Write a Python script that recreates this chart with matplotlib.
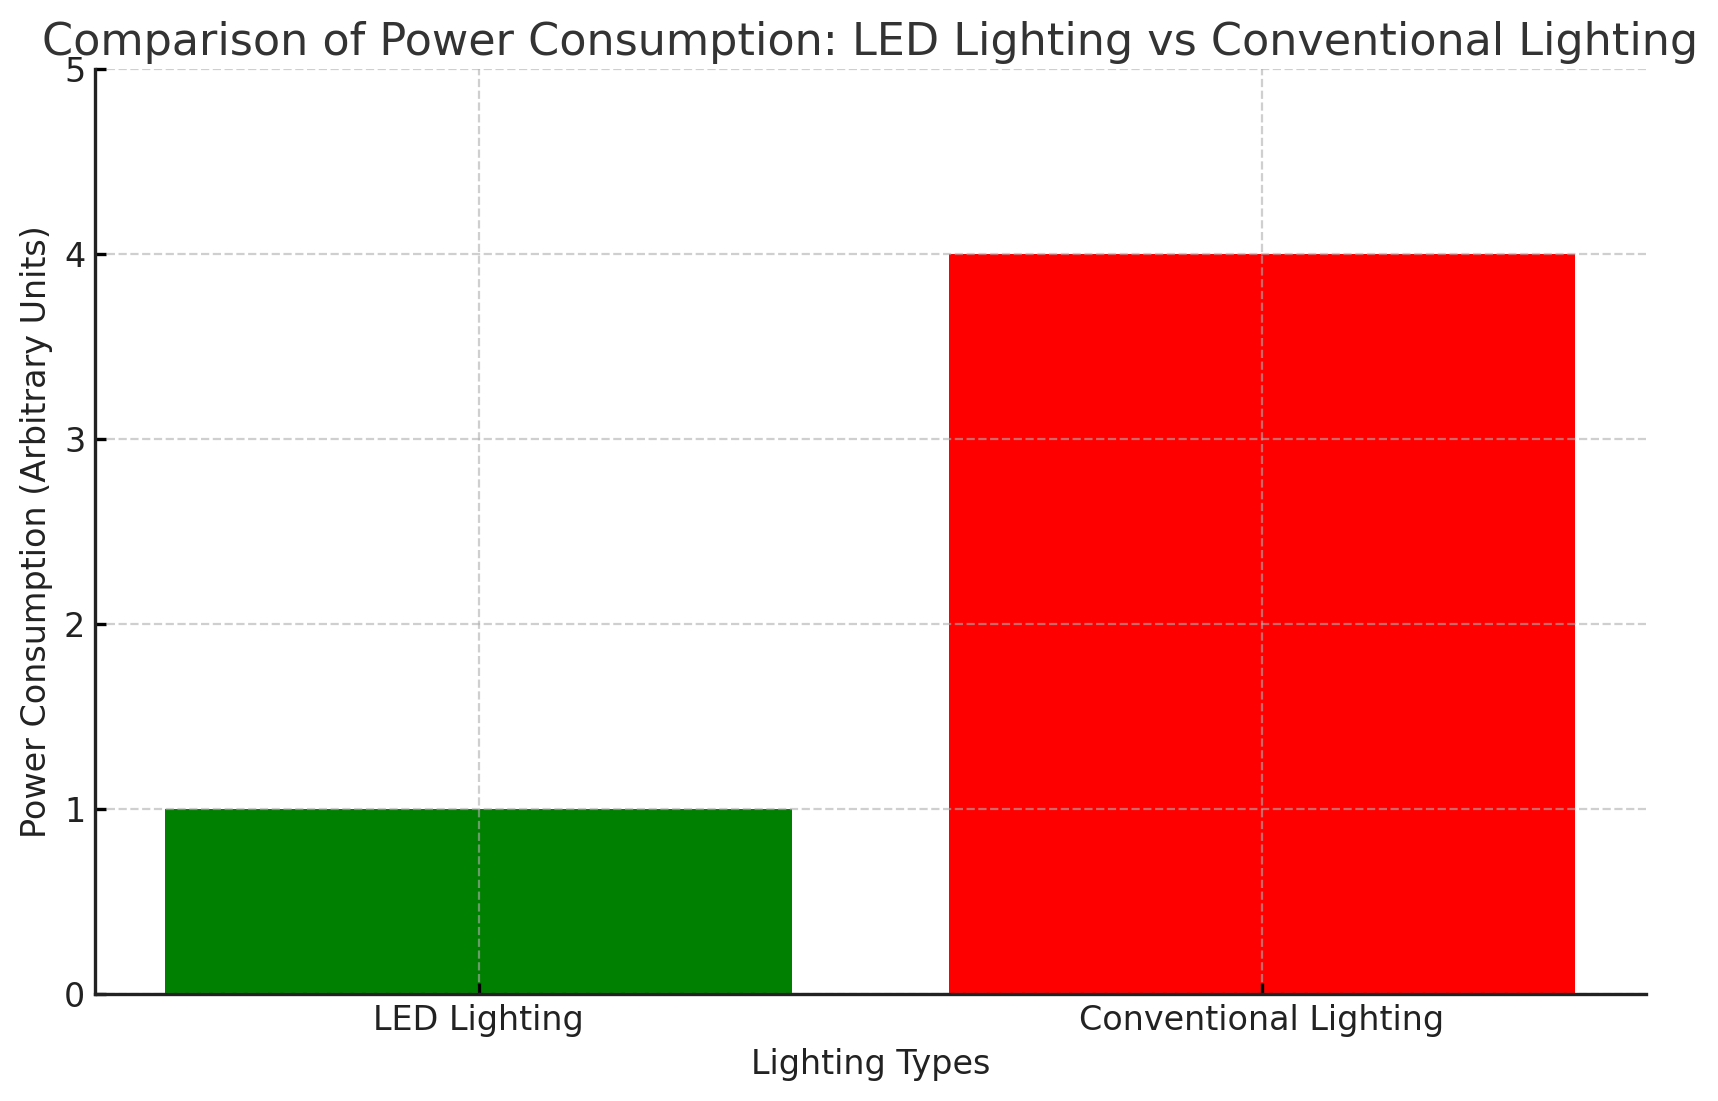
import matplotlib
matplotlib.use("Agg")
import matplotlib.pyplot as plt

# datos
tipos = ["LED Lighting", "Conventional Lighting"]
consumo = [1, 4]
colores = ["green", "red"]

fig = plt.figure(figsize=(8.59, 5.505), dpi=200)
ax = fig.add_axes([0.0553, 0.0972, 0.9027, 0.8401])

ax.bar(tipos, consumo, color=colores, width=0.8)

ax.set_ylim(0, 5)
ax.set_yticks([0, 1, 2, 3, 4, 5])

ax.set_title("Comparison of Power Consumption: LED Lighting vs Conventional Lighting",
             fontsize=16, color="#333333", pad=5)
ax.set_xlabel("Lighting Types", fontsize=12, color="#222222")
ax.set_ylabel("Power Consumption (Arbitrary Units)", fontsize=12, color="#222222")

ax.tick_params(direction="in", labelsize=12, labelcolor="#222222", length=4, width=1.2)
ax.grid(True, linestyle="--", color="#b0b0b0", alpha=0.6, linewidth=0.8)

ax.spines["top"].set_visible(False)
ax.spines["right"].set_visible(False)
for s in ["left", "bottom"]:
    ax.spines[s].set_linewidth(1.2)
    ax.spines[s].set_color("#222222")

plt.savefig("out.png", dpi=200)
